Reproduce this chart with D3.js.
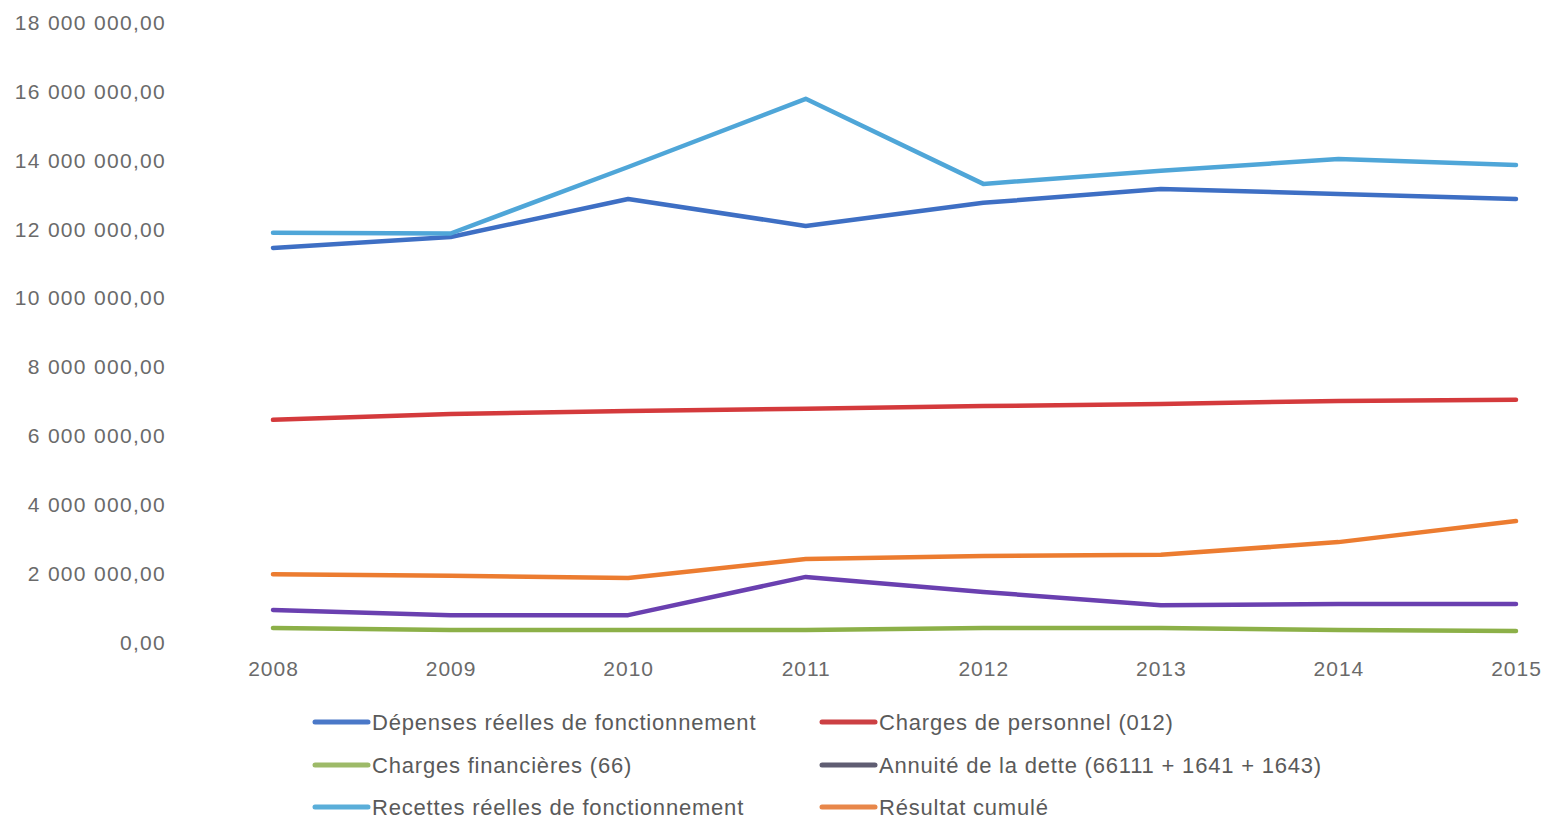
<!DOCTYPE html>
<html>
<head>
<meta charset="utf-8">
<script src="https://cdn.jsdelivr.net/npm/d3@7"></script>
<style>
  html, body { margin: 0; padding: 0; background: #fff; }
  svg { display: block; }
  text { font-family: "Liberation Sans", Arial, sans-serif; }
</style>
</head>
<body>
<svg id="chart" width="1544" height="820"></svg>
<script>
const years = ["2008", "2009", "2010", "2011", "2012", "2013", "2014", "2015"];
const yTicks = [0, 2000000, 4000000, 6000000, 8000000, 10000000, 12000000, 14000000, 16000000, 18000000];

const depensesReelles = [11440000, 11760000, 12860000, 12080000, 12750000, 13150000, 13010000, 12860000];
const chargesPersonnel = [6450000, 6620000, 6710000, 6770000, 6850000, 6910000, 7000000, 7030000];
const chargesFinancieres = [410000, 350000, 350000, 350000, 410000, 410000, 350000, 320000];
const annuiteDette = [930000, 780000, 780000, 1890000, 1450000, 1070000, 1100000, 1100000];
const recettesReelles = [11880000, 11860000, 13790000, 15770000, 13300000, 13680000, 14020000, 13850000];
const resultatCumule = [1970000, 1920000, 1860000, 2410000, 2500000, 2530000, 2900000, 3510000];

const seriesNames = [
  "Dépenses réelles de fonctionnement",
  "Charges de personnel (012)",
  "Charges financières (66)",
  "Annuité de la dette (66111 + 1641 + 1643)",
  "Recettes réelles de fonctionnement",
  "Résultat cumulé"
];
const seriesValues = [depensesReelles, chargesPersonnel, chargesFinancieres, annuiteDette, recettesReelles, resultatCumule];
const lineColors = ["#3e6fc4", "#d43a3c", "#8cb048", "#6a40b0", "#4fa6d8", "#ec7c30"];
const legendColors = ["#4a78c8", "#cc4043", "#9dba68", "#5f5d72", "#5aaed9", "#e8874a"];

const svg = d3.select("#chart");

const x = d3.scalePoint().domain(years).range([273, 1516]);
const y = d3.scaleLinear().domain([0, 18000000]).range([642, 22]);

const fmt = v => {
  const s = d3.format(",.2f")(v);
  return s.replace(/,/g, " ").replace(/\.(\d\d)$/, ",$1");
};

// Y axis
const yAxis = svg.append("g")
  .attr("transform", "translate(166,0)")
  .call(d3.axisLeft(y).tickValues(yTicks).tickFormat(fmt).tickSize(0).tickPadding(0));
yAxis.select(".domain").remove();
yAxis.selectAll("text")
  .attr("fill", "#6a6a6a")
  .style("font-size", "21px")
  .style("letter-spacing", "1.3px")
  .attr("dy", "0.35em");

// X axis
const xAxis = svg.append("g")
  .attr("transform", "translate(0,661)")
  .call(d3.axisBottom(x).tickSize(0).tickPadding(0));
xAxis.select(".domain").remove();
xAxis.selectAll("text")
  .attr("fill", "#6a6a6a")
  .style("font-size", "21px")
  .style("letter-spacing", "1px")
  .attr("dy", "0.71em");

// Lines
const line = d3.line()
  .x((d, i) => x(years[i]))
  .y(d => y(d));

const drawOrder = [2, 3, 5, 1, 0, 4];
drawOrder.forEach(i => {
  svg.append("path")
    .datum(seriesValues[i])
    .attr("d", line)
    .attr("fill", "none")
    .attr("stroke", lineColors[i])
    .attr("stroke-width", 4.5)
    .attr("stroke-linejoin", "round")
    .attr("stroke-linecap", "round");
});

// Legend
const legendCols = [313, 820];
const legendRows = [722, 765, 807];
seriesNames.forEach((name, i) => {
  const cx = legendCols[i % 2];
  const cy = legendRows[Math.floor(i / 2)];
  const g = svg.append("g").attr("transform", `translate(${cx},${cy})`);
  g.append("line")
    .attr("x1", 2).attr("x2", 55)
    .attr("y1", 0).attr("y2", 0)
    .attr("stroke", legendColors[i])
    .attr("stroke-width", 5)
    .attr("stroke-linecap", "round");
  g.append("text")
    .attr("x", 59)
    .attr("y", 0)
    .attr("dy", "0.35em")
    .attr("fill", "#5a5a5a")
    .style("font-size", "22px")
    .style("letter-spacing", "0.8px")
    .text(name);
});
</script>
</body>
</html>
